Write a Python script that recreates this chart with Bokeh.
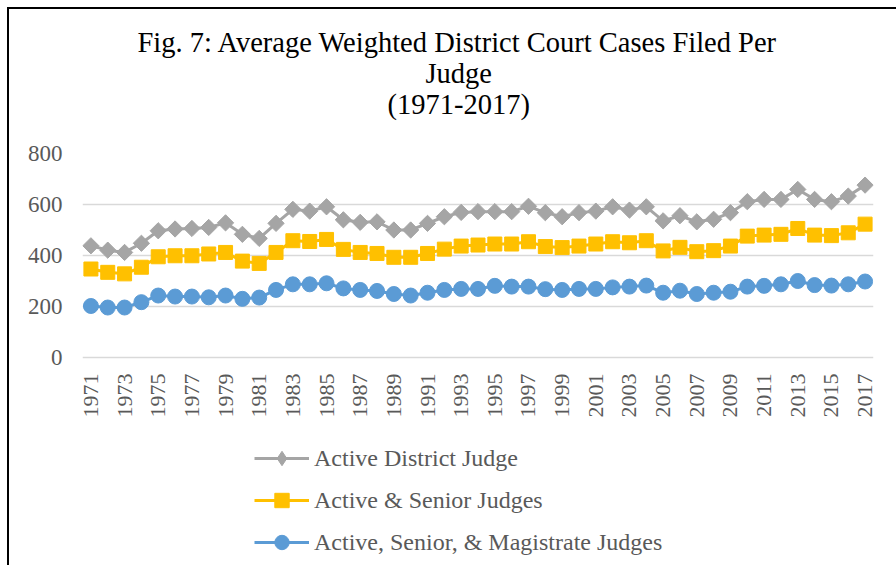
import math
from bokeh.plotting import figure
from bokeh.models import (Legend, LegendItem, Title, FixedTicker, Range1d,
                          LinearAxis, ColumnDataSource)
from bokeh.embed import file_html
from bokeh.resources import INLINE

years = list(range(1971, 2018))
active_district = [438, 421, 412, 448, 497, 504, 506, 510, 528, 483, 467, 526, 581, 574, 591, 540,
                   530, 532, 500, 500, 526, 552, 569, 572, 572, 572, 593, 568, 552, 568, 574, 591,
                   578, 591, 536, 556, 532, 542, 568, 611, 620, 620, 659, 620, 611, 633, 676]
active_senior = [347, 334, 328, 354, 395, 399, 399, 406, 412, 378, 369, 412, 458, 455, 463, 424,
                 412, 408, 393, 393, 408, 425, 437, 441, 445, 445, 454, 435, 431, 437, 445, 454,
                 450, 458, 418, 432, 415, 419, 437, 476, 480, 483, 506, 480, 478, 489, 523]
active_senior_mag = [202, 196, 196, 217, 243, 239, 239, 236, 243, 230, 235, 265, 287, 287, 291, 271,
                     265, 261, 249, 243, 254, 265, 269, 269, 281, 278, 278, 268, 265, 269, 269, 275,
                     278, 282, 254, 262, 249, 254, 258, 278, 281, 287, 300, 284, 282, 287, 298]
series_names = ["Active District Judge", "Active & Senior Judges",
                "Active, Senior, & Magistrate Judges"]
y_ticks = [0, 200, 400, 600, 800]
x_tick_years = years[::2]
title_lines = ["Fig. 7: Average Weighted District Court Cases Filed Per", "Judge", "(1971-2017)"]
title_offsets = [55, 343, 305]  # left offsets of each title line from the frame's left edge

FONT = "Liberation Serif"
TXT = "#595959"

# the frame runs from the 800 gridline down to the bottom of the canvas so that
# the legend (placed below the axis) lies inside it; values 0..800 take 204 px
FRAME_H = 412
Y_MAX = 800
Y_MIN = Y_MAX - FRAME_H * Y_MAX / 204

src = ColumnDataSource(dict(x=years, a=active_district, b=active_senior, c=active_senior_mag))

p = figure(frame_width=791, frame_height=FRAME_H, output_backend="svg", toolbar_location=None,
           x_range=Range1d(1970.5, 2017.5), y_range=Range1d(Y_MIN, Y_MAX),
           min_border_left=73, min_border_right=23, min_border_top=144, min_border_bottom=0,
           background_fill_color="white", border_fill_color="white", outline_line_color=None)
p.title.visible = False
p.styles = {"border-top": "2px solid #000000", "border-left": "2px solid #000000",
            "margin-left": "7px", "margin-top": "7px"}

# axes
p.xgrid.visible = False
p.ygrid.grid_line_color = "#d9d9d9"
p.ygrid.grid_line_width = 1.3
p.yaxis.ticker = FixedTicker(ticks=y_ticks)
p.yaxis.axis_line_color = None
p.yaxis.major_tick_line_color = None
p.yaxis.minor_tick_line_color = None
p.yaxis.major_tick_out = 0
p.yaxis.major_tick_in = 0
p.yaxis.major_label_standoff = 20
p.yaxis.major_label_text_font = FONT
p.yaxis.major_label_text_font_size = "23px"
p.yaxis.major_label_text_color = TXT

xa = p.below[0]
xa.fixed_location = 0
xa.ticker = FixedTicker(ticks=x_tick_years)
xa.major_label_overrides = {y: str(y) for y in x_tick_years}
xa.major_label_orientation = math.pi / 2
xa.axis_line_color = None
xa.major_tick_line_color = None
xa.minor_tick_line_color = None
xa.major_tick_out = 0
xa.major_tick_in = 0
xa.major_label_standoff = 16
xa.major_label_text_font = FONT
xa.major_label_text_font_size = "22px"
xa.major_label_text_color = TXT

# invisible spacer between the frame and the title block
top_spacer = LinearAxis(ticker=FixedTicker(ticks=[1994]), axis_line_color=None,
                        major_label_overrides={1994: ""},
                        major_tick_line_color=None, minor_tick_line_color=None,
                        major_tick_out=35, major_tick_in=0, minor_tick_out=0,
                        major_label_standoff=0, major_label_text_font_size="1px",
                        major_label_text_alpha=0)
p.add_layout(top_spacer, "above")

# titles (first added is nearest the frame)
for txt, off in reversed(list(zip(title_lines, title_offsets))):
    t = Title(text=txt, align="left", offset=off, text_font=FONT, text_font_size="28.5px",
              text_font_style="normal", text_color="#000000", standoff=-2.5)
    p.add_layout(t, "above")

# series
l1 = p.line("x", "a", source=src, line_color="#A5A5A5", line_width=3)
m1 = p.scatter("x", "a", source=src, marker="square", angle=math.pi / 4, size=11.5,
               fill_color="#A5A5A5", line_color="#A5A5A5")
l2 = p.line("x", "b", source=src, line_color="#FFC000", line_width=3)
m2 = p.scatter("x", "b", source=src, marker="square", size=14,
               fill_color="#FFC000", line_color="#FFC000")
l3 = p.line("x", "c", source=src, line_color="#5B9BD5", line_width=3)
m3 = p.scatter("x", "c", source=src, marker="circle", size=15,
               fill_color="#5B9BD5", line_color="#5B9BD5")

# legend-only diamond for the first series (its one point lies outside the x range)
leg_src = ColumnDataSource(dict(x=[1900], y=[0]))
m1_leg = p.scatter("x", "y", source=leg_src, marker="diamond", size=14,
                   fill_color="#A5A5A5", line_color="#A5A5A5")

legend = Legend(items=[LegendItem(label=series_names[0], renderers=[l1, m1_leg]),
                       LegendItem(label=series_names[1], renderers=[l2, m2]),
                       LegendItem(label=series_names[2], renderers=[l3, m3])],
                location=(172, 5), orientation="vertical",
                label_text_font=FONT, label_text_font_size="24px", label_text_color=TXT,
                glyph_width=55, glyph_height=36, label_height=36, label_standoff=5,
                spacing=6, padding=5, margin=0,
                border_line_color=None, background_fill_alpha=0)
p.add_layout(legend, "center")

open("out.html", "w").write(file_html(p, INLINE))
